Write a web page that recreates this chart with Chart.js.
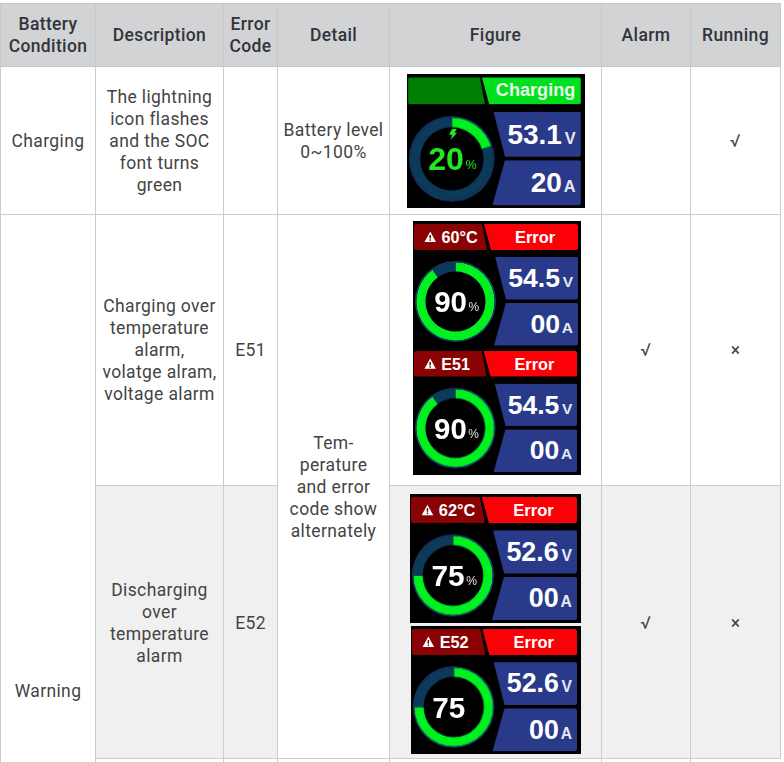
<!DOCTYPE html>
<html>
<head>
<meta charset="utf-8">
<script src="https://cdn.jsdelivr.net/npm/chart.js@4"></script>
<style>
html, body { margin: 0; padding: 0; background: #fff; }
body { width: 784px; height: 762px; overflow: hidden; position: relative; }
table { position: absolute; left: 0; top: 3px; width: 780px; border-collapse: collapse; table-layout: fixed;
  font: 400 17.5px/22px Roboto, sans-serif; color: #444; letter-spacing: .37px; }
th, td { border: 1px solid #ccc; padding: 0; text-align: center; vertical-align: middle; }
th { background: #d1d3d5; color: #33333b; font-weight: 500; border-color: #c6c8ca; }
tr.alt td.shade { background: #f0f0f0; padding-top: 2px; }
.screen { position: absolute; width: 168px; height: 127px; background: #000; transform-origin: 0 0;
  font-family: "Liberation Sans", Arial, sans-serif; font-weight: 700; color: #fff; letter-spacing: 0; }
.screen div, .screen canvas, .screen svg { position: absolute; }
.txt { white-space: nowrap; }
</style>
</head>
<body>
<table id="tbl">
  <colgroup><col style="width:95px"><col style="width:128px"><col style="width:54px"><col style="width:112px"><col style="width:212px"><col style="width:89px"><col style="width:90px"></colgroup>
  <tbody id="rows"></tbody>
</table>
<script>
// 表格内容
const headers = ['Battery<br>Condition', 'Description', 'Error<br>Code', 'Detail', 'Figure', 'Alarm', 'Running'];
const conditions = ['Charging', 'Warning'];
const descriptions = [
    'The lightning<br>icon flashes<br>and the SOC<br>font turns<br>green',
    'Charging over<br>temperature<br>alarm,<br>volatge alram,<br>voltage alarm',
    'Discharging<br>over<br>temperature<br>alarm'
];
const errorCodes = ['', 'E51', 'E52'];
const details = ['Battery level<br>0~100%', 'Tem-<br>perature<br>and error<br>code show<br>alternately'];
const alarmMarks = ['', '√', '√'];
const runningMarks = ['√', '×', '×'];

// 屏幕数值
const socValues = [20, 90, 90, 75, 75];
const voltValues = ['53.1', '54.5', '54.5', '52.6', '52.6'];
const ampValues = ['20', '00', '00', '00', '00'];
const tagLabels = ['', '60°C', 'E51', '62°C', 'E52'];
const statusLabels = ['Charging', 'Error', 'Error', 'Error', 'Error'];
const socUnits = ['%', '%', '%', '%', ''];

// 屏幕位置
const screenX = [407, 413, 413, 410, 411];
const screenY = [74, 221, 348, 494, 626];
const screenScale = [1.054, 1, 0.995, 1.012, 1.006];

const rowsEl = document.getElementById('rows');
rowsEl.innerHTML = `
  <tr style="height:63px">${headers.map(h => `<th>${h}</th>`).join('')}</tr>
  <tr style="height:148px">
    <td>${conditions[0]}</td><td>${descriptions[0]}</td><td>${errorCodes[0]}</td><td>${details[0]}</td><td></td><td>${alarmMarks[0]}</td><td>${runningMarks[0]}</td>
  </tr>
  <tr style="height:271px">
    <td rowspan="3">${conditions[1]}</td><td>${descriptions[1]}</td><td>${errorCodes[1]}</td><td rowspan="2">${details[1]}</td><td></td><td>${alarmMarks[1]}</td><td>${runningMarks[1]}</td>
  </tr>
  <tr class="alt" style="height:273px">
    <td class="shade">${descriptions[2]}</td><td class="shade">${errorCodes[2]}</td><td class="shade"></td><td class="shade">${alarmMarks[2]}</td><td class="shade">${runningMarks[2]}</td>
  </tr>
  <tr style="height:408px"><td></td><td></td><td></td><td></td><td></td></tr>`;

// 基线定位的文字
function addText(parent, text, opts) {
    const el = document.createElement('div');
    el.className = 'txt';
    el.textContent = text;
    el.style.fontSize = opts.size + 'px';
    el.style.lineHeight = opts.size + 'px';
    el.style.top = (opts.base - 0.8465 * opts.size) + 'px';
    if (opts.left !== undefined) el.style.left = opts.left + 'px';
    if (opts.right !== undefined) el.style.right = (168 - opts.right) + 'px';
    if (opts.center !== undefined) { el.style.left = opts.center + 'px'; el.style.transform = 'translateX(-50%)'; }
    if (opts.color) el.style.color = opts.color;
    if (opts.weight) el.style.fontWeight = opts.weight;
    parent.appendChild(el);
    return el;
}

function addPanel(parent, color, x, y, w, h, points) {
    const el = document.createElement('div');
    el.style.cssText = `left:${x}px;top:${y}px;width:${w}px;height:${h}px;background:${color};clip-path:polygon(${points});`;
    parent.appendChild(el);
}

function drawScreen(i) {
    const charging = i === 0;
    const screen = document.createElement('div');
    screen.className = 'screen';
    screen.style.left = screenX[i] + 'px';
    screen.style.top = screenY[i] + 'px';
    screen.style.transform = `scale(${screenScale[i]})`;
    document.body.appendChild(screen);

    // 顶部标签和状态
    addPanel(screen, charging ? '#017f03' : '#8a0204', 1, 3, 73, 26, '1.5px 0,68px 0,73px 100%,1.5px 100%,0 24.5px,0 1.5px');
    addPanel(screen, charging ? '#00e01c' : '#fb0006', 71, 3, 94, 26, '0 0,92.5px 0,94px 1.5px,94px 24.5px,92.5px 100%,7px 100%');
    if (tagLabels[i]) {
        const icon = document.createElement('div');
        icon.style.cssText = 'left:10.5px;top:10px;';
        icon.innerHTML = '<svg viewBox="0 0 24 22" width="12.5" height="11.5" style="display:block;position:static"><path d="M12 1 L23 21 H1 Z" fill="#fff"/><rect x="10.6" y="7.5" width="2.8" height="7" fill="#5a0608"/><rect x="10.6" y="16" width="2.8" height="2.8" fill="#5a0608"/></svg>';
        screen.appendChild(icon);
        addText(screen, tagLabels[i], { left: 28.5, base: 21.8, size: 16.2 });
    }
    addText(screen, statusLabels[i], { center: 122, base: 21.7, size: charging ? 17.2 : 16.4, color: charging ? '#e9fbe9' : '#fff' });

    // 电压和电流面板
    addPanel(screen, '#2a3a8a', 82, 35.5, 83, 43, '0 0,81.5px 0,83px 1.5px,83px 41.5px,81.5px 100%,11px 100%');
    addPanel(screen, '#2a3a8a', 81, 81.5, 84, 43, '12px 0,82.5px 0,84px 1.5px,84px 41.5px,82.5px 100%,0 100%');
    addText(screen, voltValues[i], { right: 147, base: 66.4, size: 26.6 });
    addText(screen, 'V', { right: 160, base: 66.4, size: 15.5, color: '#e4e8f4' });
    addText(screen, ampValues[i], { right: 147, base: 112.6, size: 26.6 });
    addText(screen, 'A', { right: 160, base: 112.6, size: 15.5, color: '#e4e8f4' });

    // SOC 环形图
    const canvas = document.createElement('canvas');
    canvas.style.cssText = 'left:2px;top:39.5px;';
    screen.appendChild(canvas);
    canvas.width = 81;
    canvas.height = 81;
    canvas.style.width = '81px';
    canvas.style.height = '81px';
    new Chart(canvas.getContext('2d'), {
        type: 'doughnut',
        data: {
            labels: ['SOC', 'Rest'],
            datasets: [
                { data: [100], backgroundColor: ['#1d3b70'], borderWidth: 0, weight: 1 },
                { data: [socValues[i], 100 - socValues[i]], backgroundColor: ['#00f021', '#0c3a5a'], borderWidth: 0, weight: 7 }
            ]
        },
        options: {
            responsive: false,
            animation: false,
            cutout: '74%',
            plugins: { legend: { display: false }, tooltip: { enabled: false } }
        }
    });

    const textColor = charging ? '#22e822' : '#fff';
    addText(screen, String(socValues[i]), { right: 54, base: 90.6, size: charging ? 30.5 : 29.5, color: textColor });
    if (socUnits[i]) addText(screen, socUnits[i], { left: 55.5, base: 90.6, size: 12, color: charging ? '#22e822' : '#e4e4e4', weight: 400 });
    if (charging) {
        const bolt = document.createElement('div');
        bolt.style.cssText = 'left:39.5px;top:51.5px;width:8px;height:11px;background:#22e822;clip-path:polygon(45% 0,100% 0,70% 38%,100% 38%,25% 100%,42% 55%,5% 55%);';
        screen.appendChild(bolt);
    }
}

socValues.forEach((_, i) => drawScreen(i));
</script>
</body>
</html>
